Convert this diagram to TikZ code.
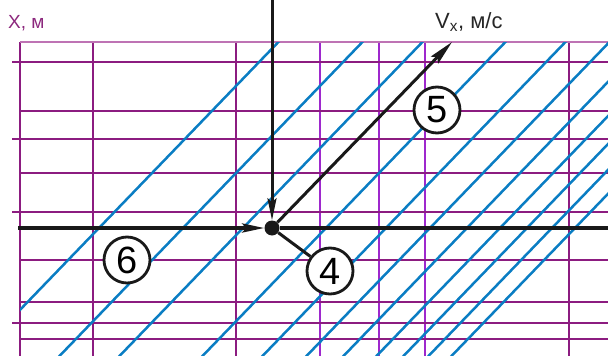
\documentclass[tikz,border=0pt]{standalone}
\usepackage{fontspec}
\setmainfont{Liberation Sans}
\usepackage{xcolor}
\usetikzlibrary{arrows.meta,calc}
\definecolor{gmag}{RGB}{140,28,128}
\definecolor{gvio}{RGB}{158,40,205}
\definecolor{gpale}{RGB}{190,115,180}
\definecolor{c1}{RGB}{10,125,195}
\definecolor{lblmag}{RGB}{140,40,125}

\begin{document}
\begin{tikzpicture}[x=1pt,y=-1pt,
  gridln/.style={gmag,line width=1.2pt},
  hatch/.style={c1,line width=2.5pt},
  axis/.style={black!90,line width=3.5pt},
  tip/.style={-{Stealth[length=22pt,width=9pt,inset=4pt]}},
  numcirc/.style={circle,draw=black!90,line width=2.8pt,fill=white,
    minimum size=46pt,inner sep=0pt,font=\fontsize{38}{40}\selectfont}]
  \useasboundingbox (0,0) rectangle (608,356);

  % grid
  \foreach \gx in {20,93,236,569} \draw[gridln] (\gx,42) -- (\gx,356);
  \foreach \gx in {320,379,425} \draw[gridln,gvio] (\gx,42) -- (\gx,356);
  \draw[gridln,gpale] (20,42) -- (608,42);
  \foreach \gy in {111,173,260,302,339} \draw[gridln] (20,\gy) -- (608,\gy);
  \foreach \gy in {62,139,212,323} \draw[gridln] (12,\gy) -- (608,\gy);

  % hatching, \xa = where a line meets the horizontal axis
  \begin{scope}
    \clip (20,42) rectangle (608,356);
    \foreach \xa in {99,183,243,326,386,430,467,500,527,552,575}
      \draw[hatch] ({\xa+191},30) -- ({\xa-137},370);
  \end{scope}

  % axes
  \node[circle,fill=black!90,minimum size=15pt,inner sep=0pt] (o) at (272,228) {};
  \coordinate (ytop) at (272,0);
  \coordinate (xleft) at (18,228);
  \coordinate (xright) at (608,228);
  \coordinate (vtip) at (452,42);
  \draw[axis,line width=3pt,tip] (ytop) -- (o);
  \draw[axis,tip] (xleft) -- (o);
  \draw[axis] (o) -- (xright);
  \draw[axis,line width=3pt,-{Stealth[length=25pt,width=10pt,inset=4pt]}] (o) -- (vtip);

  \node[anchor=base west,inner sep=0pt,text=lblmag,font=\fontsize{19}{20}\selectfont] (xlab) at (8,28) {X, м};
  \node[anchor=base west,inner sep=0pt,text=black!85,font=\fontsize{22}{24}\selectfont] (vlab) at (435,28) {V\textsubscript{x}, м/с};

  \node[numcirc] (n5) at (437,110) {5};
  \node[numcirc] (n6) at (127,260) {6};
  \node[numcirc] (n4) at (330,271) {4};
  \draw[axis,line width=3pt] (o) -- (n4);
\end{tikzpicture}
\end{document}
